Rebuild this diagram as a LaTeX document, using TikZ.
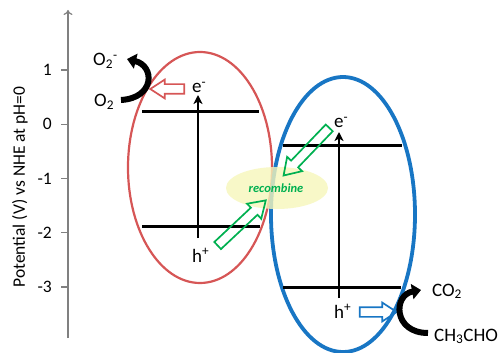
\documentclass[tikz,border=0pt]{standalone}
\usepackage{fontspec}
\setmainfont{Carlito}
\usetikzlibrary{arrows.meta,shapes.arrows}
\definecolor{redell}{RGB}{214,86,86}
\definecolor{blueell}{RGB}{24,118,196}
\definecolor{greenarr}{RGB}{0,176,80}
\definecolor{yellowglow}{RGB}{246,246,186}
\definecolor{axisgray}{RGB}{128,128,128}
\tikzset{
  lbl/.style={inner sep=0pt, font=\fontsize{19}{22}\selectfont},
  ticklbl/.style={inner sep=0pt, font=\fontsize{17.5}{20}\selectfont},
  level/.style={line width=3pt, black},
  vert/.style={line width=1.8pt, black, -{Stealth[length=9pt,width=9pt,inset=2.5pt]}},
  harrow/.style={single arrow, draw=#1, line width=1.7pt, inner xsep=0pt, inner ysep=4pt,
                 single arrow head extend=4.5pt, single arrow tip angle=66},
  curvearr/.style={line width=6pt, black, -{Triangle[length=9pt,width=15pt]}},
}
\begin{document}
\begin{tikzpicture}[x=1pt,y=-1pt]
\useasboundingbox (0,0) rectangle (499,353);
% axis
\coordinate (axb) at (68,338);
\coordinate (axt) at (68,10);
\draw[axisgray, line width=1.2pt, -{To[length=5pt,width=9pt]}] (axb) -- (axt);
\foreach \v/\y/\i in {1/70/a,0/124.25/b,-1/178.5/c,-2/232.75/d,-3/287/e} {
  \coordinate (t\i) at (68,\y);
  \coordinate (s\i) at (61,\y);
  \draw[axisgray, line width=1.2pt] (s\i) -- (t\i);
  \node[ticklbl, anchor=east] (tl\i) at (52,\y) {\v};
}
\node[lbl, rotate=90, font=\fontsize{17.5}{20}\selectfont] (ylab) at (20,187) {Potential (V) vs NHE at pH=0};
% ellipses
\draw[redell, line width=2.2pt] (200,167.5) ellipse [x radius=72pt, y radius=115.5pt];
\draw[blueell, line width=3.8pt] (343,214.5) ellipse [x radius=72pt, y radius=137.5pt];
% levels
\coordinate (rc1) at (142,112); \coordinate (rc2) at (259,112);
\coordinate (rv1) at (142,227); \coordinate (rv2) at (260,227);
\coordinate (bc1) at (283,146); \coordinate (bc2) at (402,146);
\coordinate (bv1) at (283,287); \coordinate (bv2) at (401,287);
\draw[level] (rc1) -- (rc2);
\draw[level] (rv1) -- (rv2);
\draw[level] (bc1) -- (bc2);
\draw[level] (bv1) -- (bv2);
% vertical arrows
\coordinate (ra0) at (198,238); \coordinate (ra1) at (198,95);
\coordinate (ba0) at (339,298); \coordinate (ba1) at (339,132);
\draw[vert] (ra0) -- (ra1);
\draw[vert] (ba0) -- (ba1);
% recombination glow
\fill[yellowglow, opacity=0.8] (277,188) ellipse [x radius=51pt, y radius=21pt];
% hollow arrows
\node[harrow=redell, minimum height=34pt, rotate=180] (rarr) at (171,89) {};
\node[harrow=blueell, minimum height=37pt] (barr) at (374.5,312) {};
\node[harrow=greenarr, minimum height=66pt, rotate=226.2, single arrow head extend=5.5pt] (garr1) at (309,149) {};
\node[harrow=greenarr, minimum height=66pt, rotate=43.2, single arrow head extend=5.5pt] (garr2) at (239,225.5) {};
\node[inner sep=0pt, text=greenarr, font=\fontsize{12.5}{14}\selectfont\bfseries\itshape] (rec) at (276,188) {recombine};
% curved black arrows
\coordinate (o2t) at (121,100); \coordinate (o2h) at (127,59);
\draw[curvearr] (o2t) .. controls (155,98) and (155,66) .. (o2h);
\coordinate (cht) at (428,333); \coordinate (chh) at (421,290);
\draw[curvearr] (cht) .. controls (393,333) and (393,295) .. (chh);
% labels
\node[lbl, anchor=base west] (o2m) at (93,66) {O\textsubscript{2}\textsuperscript{-}};
\node[lbl, anchor=base west] (o2) at (94,107) {O\textsubscript{2}};
\node[lbl, anchor=base west] (er) at (192,93) {e\textsuperscript{-}};
\node[lbl, anchor=base west] (eb) at (334,128) {e\textsuperscript{-}};
\node[lbl, anchor=base west] (hr) at (192,262) {h\textsuperscript{+}};
\node[lbl, anchor=base west] (hb) at (334,318) {h\textsuperscript{+}};
\node[lbl, anchor=base west] (co2) at (432,296) {CO\textsubscript{2}};
\node[lbl, anchor=base west] (ch) at (434,341) {CH\textsubscript{3}CHO};
\end{tikzpicture}
\end{document}
